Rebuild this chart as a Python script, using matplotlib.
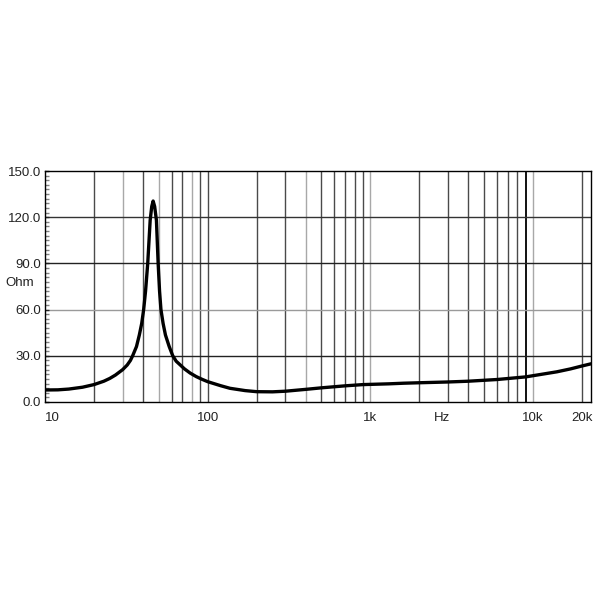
import matplotlib
matplotlib.use("Agg")
import matplotlib.pyplot as plt
from matplotlib.ticker import MultipleLocator, NullLocator

plt.rcParams['font.family'] = ['Liberation Sans', 'DejaVu Sans']

# Impedance curve (Hz, Ohm)
freq_hz = [10, 12, 14, 17, 20, 23, 25, 27.1, 30, 32, 33.5, 34.6, 36.5, 38.0, 39.3, 40.4,
           41.5, 42.8, 44.3, 45.3, 46.2, 47.2, 48.4, 49.6, 50.6, 51.6, 53.2, 55, 58, 61,
           64, 67.9, 72, 78, 85, 92, 100, 120, 137, 170, 200, 250, 300, 400, 500, 700,
           900, 1300, 1600, 2000, 3000, 4000, 6000, 9000, 14000, 17000, 20000, 22700]
impedance_ohm = [7.8, 7.9, 8.4, 9.6, 11.3, 13.5, 15.3, 17.5, 21.0, 24.0, 27.0, 30.1, 36.0,
                 43.5, 51.0, 60.0, 72.0, 90.0, 118.0, 127.0, 130.5, 127.0, 118.0, 90.0,
                 72.0, 60.0, 51.0, 43.5, 36.0, 30.0, 26.5, 24.0, 21.5, 18.8, 16.5, 14.8,
                 13.2, 10.6, 8.9, 7.4, 6.7, 6.6, 7.0, 8.2, 9.2, 10.5, 11.3, 11.8, 12.2,
                 12.5, 13.0, 13.5, 14.6, 16.3, 19.6, 21.5, 23.4, 24.8]

x_ticks = [10, 100, 1000, 10000, 20000]
x_tick_labels = ['10', '100', '1k', '10k', '20k']
y_ticks = [0, 30, 60, 90, 120, 150]
y_tick_labels = ['0.0', '30.0', '60.0', '90.0', '120.0', '150.0']

v_grid = [20, 30, 40, 50, 60, 70, 80, 90, 100, 200, 300, 400, 500, 600, 700, 800, 900,
          1000, 2000, 3000, 4000, 5000, 6000, 7000, 8000, 9000, 10000, 20000]
v_grid_light = {30, 50, 80, 400, 1000, 10000}
h_grid = [30, 60, 90, 120]
h_grid_colors = ['#222222', '#9a9a9a', '#222222', '#333333']

fig = plt.figure(figsize=(6, 6), dpi=100)
ax = fig.add_axes([45/600, 1 - 402/600, (591 - 45)/600, (402 - 171)/600])
ax.set_xscale('log')
ax.set_xlim(10, 22700)
ax.set_ylim(0, 150)

for f in v_grid:
    if f == 9000:
        ax.axvline(f, color='#111111', lw=1.4, zorder=1)
    elif f in v_grid_light:
        ax.axvline(f, color='#a8a8a8', lw=1.0, zorder=1)
    else:
        ax.axvline(f, color='#4a4a4a', lw=1.0, zorder=1)
for yv, c in zip(h_grid, h_grid_colors):
    ax.axhline(yv, color=c, lw=1.0, zorder=1)

ax.plot(freq_hz, impedance_ohm, color='black', lw=2.4, zorder=3,
        solid_joinstyle='round', solid_capstyle='round')

for s in ax.spines.values():
    s.set_color('black')
    s.set_linewidth(1.0)

ax.set_xticks(x_ticks)
ax.set_xticklabels(x_tick_labels)
ax.xaxis.set_minor_locator(NullLocator())
ax.tick_params(axis='x', length=0, pad=7, labelsize=9.5, colors='#222222')
ax.get_xticklabels()[0].set_ha('left')

ax.set_yticks(y_ticks)
ax.set_yticklabels(y_tick_labels)
ax.yaxis.set_minor_locator(MultipleLocator(3))
ax.tick_params(axis='y', which='major', direction='in', length=3, width=1,
               pad=3, labelsize=9.5, colors='#222222')
ax.tick_params(axis='y', which='minor', direction='in', length=3, width=1,
               color='#808080')

ax.text(2760, -0.069, 'Hz', transform=ax.get_xaxis_transform(), ha='center',
        va='center', fontsize=9.5, color='#222222')
fig.text(5/600, 1 - 282.7/600, 'Ohm', ha='left', va='center', fontsize=9.5,
         color='#222222')

fig.savefig('out.png', dpi=100)
